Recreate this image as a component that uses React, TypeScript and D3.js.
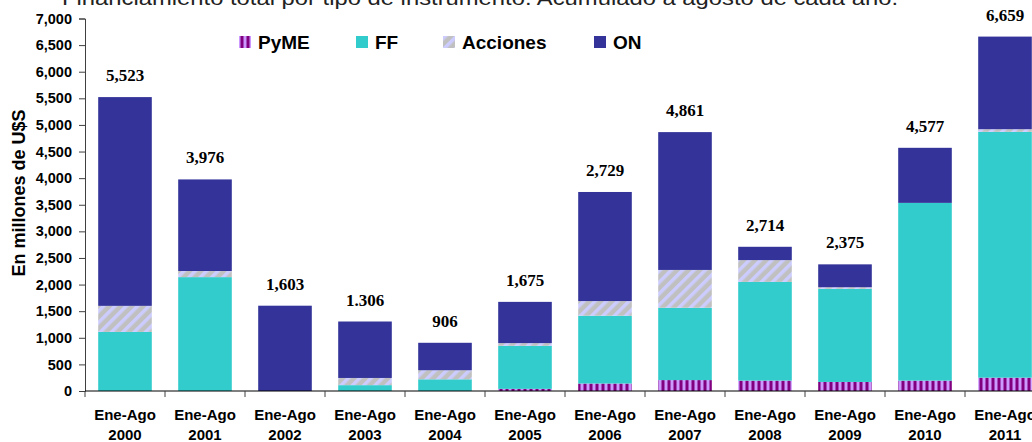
import { useRef, useEffect } from 'react';
import * as d3 from 'd3';

// Financiamiento por tipo de instrumento, Ene-Ago de cada año (millones de U$S)
const years = ['2000', '2001', '2002', '2003', '2004', '2005', '2006', '2007', '2008', '2009', '2010', '2011'];
const pyme = [0, 0, 0, 0, 0, 40, 140, 205, 195, 170, 195, 250];
const ff = [1110, 2140, 0, 110, 220, 810, 1275, 1360, 1855, 1750, 3340, 4620];
const acciones = [490, 115, 0, 135, 170, 50, 275, 710, 410, 30, 0, 50];
const on = [3923, 1721, 1603, 1061, 516, 775, 2050, 2590, 250, 430, 1035, 1740];
const totalLabels = ['5,523', '3,976', '1,603', '1.306', '906', '1,675', '2,729', '4,861', '2,714', '2,375', '4,577', '6,659'];
const yTicks = [0, 500, 1000, 1500, 2000, 2500, 3000, 3500, 4000, 4500, 5000, 5500, 6000, 6500, 7000];
const seriesKeys = ['pyme', 'ff', 'acciones', 'on'];
const seriesNames = ['PyME', 'FF', 'Acciones', 'ON'];

export default function App() {
  const ref = useRef<SVGSVGElement>(null);

  useEffect(() => {
    const svg = d3.select(ref.current);
    svg.selectAll('*').remove();

    const sans = '"Liberation Sans", Arial, sans-serif';
    const serif = '"Liberation Serif", "Times New Roman", serif';

    // patterns
    const defs = svg.append('defs');
    const pPyme = defs.append('pattern').attr('id', 'pat-pyme')
      .attr('patternUnits', 'userSpaceOnUse').attr('width', 6).attr('height', 6);
    pPyme.append('rect').attr('width', 6).attr('height', 6).attr('fill', '#cc99ff');
    pPyme.append('rect').attr('x', 1.5).attr('width', 3).attr('height', 6).attr('fill', '#800080');
    const pAcc = defs.append('pattern').attr('id', 'pat-acc')
      .attr('patternUnits', 'userSpaceOnUse').attr('width', 8).attr('height', 8)
      .attr('patternTransform', 'rotate(45)');
    pAcc.append('rect').attr('width', 8).attr('height', 8).attr('fill', '#c0c0c0');
    pAcc.append('rect').attr('width', 3.5).attr('height', 8).attr('fill', '#ccccff');

    const fills: Record<string, string> = {
      pyme: 'url(#pat-pyme)', ff: '#33cccc', acciones: 'url(#pat-acc)', on: '#333399',
    };

    const rows = years.map((yr, i) => ({
      year: yr, pyme: pyme[i], ff: ff[i], acciones: acciones[i], on: on[i],
    }));
    const stacked = d3.stack<any>().keys(seriesKeys)(rows);

    const x = d3.scaleBand().domain(years).range([85, 1045]).paddingInner(0.33).paddingOuter(0.165);
    const y = d3.scaleLinear().domain([0, 7000]).range([391, 18.5]);

    // title (cut at top in the original)
    svg.append('text')
      .attr('x', 62).attr('y', 5)
      .attr('font-family', sans).attr('font-size', 20).attr('fill', '#222')
      .attr('textLength', 836).attr('lengthAdjust', 'spacingAndGlyphs')
      .text('Financiamiento total por tipo de instrumento. Acumulado a agosto de cada año.');

    // bars
    stacked.forEach(s => {
      svg.append('g').selectAll('rect')
        .data(s.filter(d => d[1] - d[0] > 0))
        .join('rect')
        .attr('x', d => x(d.data.year)!)
        .attr('y', d => y(d[1]))
        .attr('width', x.bandwidth())
        .attr('height', d => y(d[0]) - y(d[1]))
        .attr('fill', fills[s.key]);
    });

    // total labels
    const top = stacked[stacked.length - 1];
    svg.append('g').selectAll('text')
      .data(top)
      .join('text')
      .attr('x', d => x(d.data.year)! + x.bandwidth() / 2)
      .attr('y', d => y(d[1]) - 16)
      .attr('text-anchor', 'middle')
      .attr('font-family', serif).attr('font-weight', 'bold').attr('font-size', 17)
      .attr('fill', '#000')
      .text((_, i) => totalLabels[i]);

    // y axis
    const gy = svg.append('g').attr('transform', 'translate(85,0)')
      .call(d3.axisLeft(y).tickValues(yTicks).tickSize(6).tickPadding(7).tickFormat(d3.format(',')));
    gy.select('.domain').attr('stroke', '#404040');
    gy.selectAll('.tick line').attr('stroke', '#404040');
    gy.selectAll('text')
      .attr('font-family', sans).attr('font-weight', 'bold').attr('font-size', 14.5).attr('fill', '#000');

    // x axis
    svg.append('line').attr('x1', 85).attr('x2', 1032).attr('y1', 391).attr('y2', 391)
      .attr('stroke', '#000');
    const off = (x.step() - x.bandwidth()) / 2;
    svg.append('g').selectAll('line')
      .data(years)
      .join('line')
      .attr('x1', d => x(d)! - off).attr('x2', d => x(d)! - off)
      .attr('y1', 391).attr('y2', 397)
      .attr('stroke', '#404040');
    const xl = svg.append('g').selectAll('g')
      .data(years)
      .join('g')
      .attr('transform', d => `translate(${x(d)! + x.bandwidth() / 2},0)`)
      .attr('font-family', sans).attr('font-weight', 'bold').attr('font-size', 15)
      .attr('text-anchor', 'middle');
    xl.append('text').attr('y', 420).text('Ene-Ago');
    xl.append('text').attr('y', 440).text(d => d);

    // y title
    svg.append('text')
      .attr('transform', 'translate(25,193) rotate(-90)')
      .attr('text-anchor', 'middle')
      .attr('font-family', sans).attr('font-weight', 'bold').attr('font-size', 18)
      .text('En millones de U$S');

    // legend
    const legendX = [239, 356, 443, 594];
    const lg = svg.append('g').selectAll('g')
      .data(seriesKeys)
      .join('g')
      .attr('transform', (_, i) => `translate(${legendX[i]},36)`);
    lg.append('rect').attr('width', 12).attr('height', 12).attr('fill', d => fills[d]);
    lg.append('text').attr('x', 19).attr('y', 12.5)
      .attr('font-family', sans).attr('font-weight', 'bold').attr('font-size', 19)
      .text((_, i) => seriesNames[i]);
  }, []);

  return (
    <div>
      <style>{'body{margin:0}'}</style>
      <svg ref={ref} width={1032} height={442} style={{ display: 'block', background: '#fff' }}></svg>
    </div>
  );
}
